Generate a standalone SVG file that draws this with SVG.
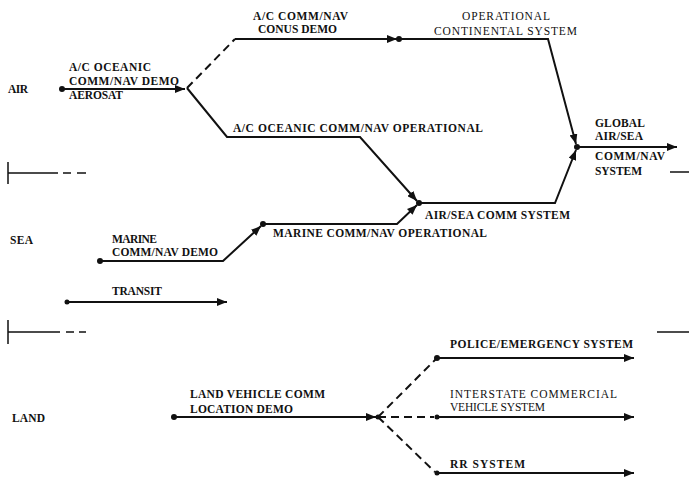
<svg xmlns="http://www.w3.org/2000/svg" width="689" height="477" viewBox="0 0 689 477">
<defs>
<marker id="ah" viewBox="0 0 10 8" refX="10" refY="4" markerWidth="10" markerHeight="8" markerUnits="userSpaceOnUse" orient="auto">
<path d="M0,0 L10,4 L0,8 Z" fill="#111"/>
</marker>
<style>
text{font-family:"Liberation Serif","Times New Roman",serif;font-size:11.5px;font-weight:bold;fill:#111}
.lt{font-weight:normal;fill:#111}
.ln{fill:none;stroke:#111;stroke-width:2;stroke-linejoin:miter}
.ds{fill:none;stroke:#111;stroke-width:2;stroke-dasharray:8 5}
.sep{fill:none;stroke:#111;stroke-width:1.5}
.dot{fill:#111}
</style>
</defs>
<rect width="689" height="477" fill="#fff"/>

<g id="domain-labels">
<text x="8" y="93" textLength="20">AIR</text>
<text x="10" y="244" textLength="23">SEA</text>
<text x="12" y="422" textLength="33">LAND</text>
</g>

<g id="separators">
<path class="sep" d="M8,162 V184 M8,173 H58"/>
<path class="sep" d="M63,173 H71 M77,173 H86"/>
<path class="sep" d="M670,172 H689"/>
<path class="sep" d="M8,320 V344 M8,332 H60"/>
<path class="sep" d="M66,332 H74 M79,332 H86"/>
<path class="sep" d="M657,332 H689"/>
</g>

<g id="connectors">
<path class="ln" d="M62,89 H185" marker-end="url(#ah)"/>
<path class="ds" d="M187,88 L235,39"/>
<path class="ln" d="M235,39 H397" marker-end="url(#ah)"/>
<path class="ln" d="M399,39 H548 L576,144" marker-end="url(#ah)"/>
<path class="ln" d="M187,88 L227,137 H360 L417,201" marker-end="url(#ah)"/>
<path class="ln" d="M100,261 H223 L261,226" marker-end="url(#ah)"/>
<path class="ln" d="M263,224 H397 L417,205" marker-end="url(#ah)"/>
<path class="ln" d="M419,203 H555 L576,150" marker-end="url(#ah)"/>
<path class="ln" d="M577,147 H677" marker-end="url(#ah)"/>
<path class="ln" d="M67,302 H227" marker-end="url(#ah)"/>
<path class="ln" d="M174,417 H376" marker-end="url(#ah)"/>
<path class="ds" d="M378,417 L437,358"/>
<path class="ln" d="M437,358 H634" marker-end="url(#ah)"/>
<path class="ds" d="M378,417 H434"/>
<path class="ln" d="M437,417 H634" marker-end="url(#ah)"/>
<path class="ds" d="M378,417 L435,472"/>
<path class="ln" d="M437,473 H634" marker-end="url(#ah)"/>
</g>

<g id="n-oceanic-demo">
<circle class="dot" cx="62" cy="89" r="3"/>
<text x="69" y="71" textLength="82">A/C OCEANIC</text>
<text x="69" y="85" textLength="110">COMM/NAV DEMO</text>
<text x="69" y="99" textLength="54">AEROSAT</text>
</g>

<g id="n-conus-demo">
<text x="253" y="20" textLength="95">A/C COMM/NAV</text>
<text x="258" y="33" textLength="79">CONUS DEMO</text>
</g>

<g id="n-continental">
<circle class="dot" cx="399" cy="39" r="3"/>
<text class="lt" x="462" y="20" textLength="88">OPERATIONAL</text>
<text class="lt" x="434" y="35" textLength="143">CONTINENTAL SYSTEM</text>
</g>

<g id="n-oceanic-operational">
<text x="233" y="132" textLength="250">A/C OCEANIC COMM/NAV OPERATIONAL</text>
</g>

<g id="n-global">
<circle class="dot" cx="577" cy="147" r="3"/>
<text x="595" y="127" textLength="50">GLOBAL</text>
<text x="595" y="140" textLength="48">AIR/SEA</text>
<text x="595" y="160" textLength="70">COMM/NAV</text>
<text x="595" y="175" textLength="47">SYSTEM</text>
</g>

<g id="n-airsea">
<circle class="dot" cx="419" cy="203" r="3"/>
<text x="425" y="219" textLength="145">AIR/SEA COMM SYSTEM</text>
</g>

<g id="n-marine-demo">
<circle class="dot" cx="100" cy="261" r="3"/>
<text x="112" y="243" textLength="45">MARINE</text>
<text x="112" y="256" textLength="106">COMM/NAV DEMO</text>
</g>

<g id="n-marine-operational">
<circle class="dot" cx="263" cy="224" r="3"/>
<text x="273" y="237" textLength="214">MARINE COMM/NAV OPERATIONAL</text>
</g>

<g id="n-transit">
<circle class="dot" cx="67" cy="302" r="2.5"/>
<text x="112" y="295" textLength="50">TRANSIT</text>
</g>

<g id="n-land-demo">
<circle class="dot" cx="174" cy="417" r="3"/>
<text x="190" y="398" textLength="135">LAND VEHICLE COMM</text>
<text x="190" y="413" textLength="103">LOCATION DEMO</text>
</g>

<g id="n-land-junction">
<circle class="dot" cx="378" cy="417" r="2.5"/>
</g>

<g id="n-police">
<circle class="dot" cx="437" cy="358" r="3"/>
<text x="450" y="348" textLength="183">POLICE/EMERGENCY SYSTEM</text>
</g>

<g id="n-interstate">
<circle class="dot" cx="437" cy="417" r="2.5"/>
<text class="lt" x="450" y="398" textLength="167">INTERSTATE COMMERCIAL</text>
<text class="lt" x="450" y="411" textLength="95">VEHICLE SYSTEM</text>
</g>

<g id="n-rr">
<circle class="dot" cx="437" cy="473" r="2.5"/>
<text x="450" y="468" textLength="75">RR SYSTEM</text>
</g>
</svg>
